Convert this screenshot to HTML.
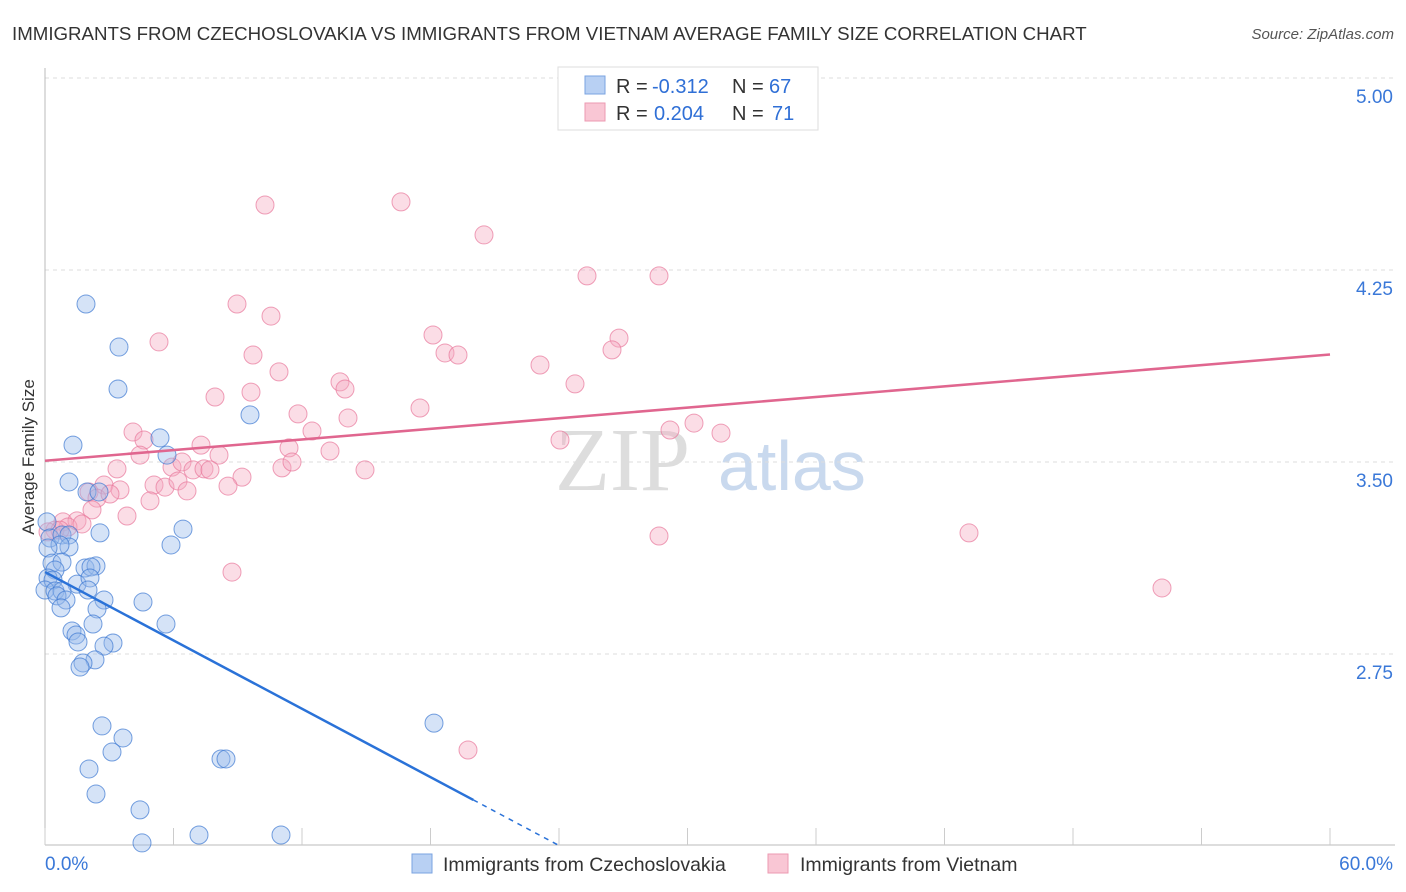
<!DOCTYPE html>
<html><head><meta charset="utf-8"><style>
body{margin:0;background:#fff;font-family:"Liberation Sans",sans-serif;}
svg{display:block}
</style></head><body>
<svg id="chart" width="1406" height="892">
<text x="12" y="40" font-size="18.7" fill="#333">IMMIGRANTS FROM CZECHOSLOVAKIA VS IMMIGRANTS FROM VIETNAM AVERAGE FAMILY SIZE CORRELATION CHART</text>
<text x="1394" y="39" font-size="15" fill="#555" font-style="italic" text-anchor="end">Source: ZipAtlas.com</text>
<text x="34" y="457" font-size="17" fill="#333" text-anchor="middle" transform="rotate(-90 34 457)">Average Family Size</text>
<text x="555" y="490" font-size="90" fill="#ddd" font-family="Liberation Serif,serif">ZIP</text>
<text x="718" y="490" font-size="70" fill="#c9d9ee">atlas</text>
<g id="grid"></g><g id="pts"></g><g id="lines"></g>
<g>
<rect x="558" y="67" width="260" height="63" fill="#fff" stroke="#ddd"/>
<rect x="585" y="76" width="20" height="18" fill="#b8d0f3" stroke="#7aa3e0"/>
<rect x="585" y="103" width="20" height="18" fill="#f9c6d4" stroke="#ec9ab2"/>
<text x="616" y="93" font-size="20" fill="#333">R =</text>
<text x="652" y="93" font-size="20" fill="#2f6fd6">-0.312</text>
<text x="732" y="93" font-size="20" fill="#333">N =</text>
<text x="769" y="93" font-size="20" fill="#2f6fd6">67</text>
<text x="616" y="120" font-size="20" fill="#333">R =</text>
<text x="654" y="120" font-size="20" fill="#2f6fd6">0.204</text>
<text x="732" y="120" font-size="20" fill="#333">N =</text>
<text x="772" y="120" font-size="20" fill="#2f6fd6">71</text>
</g>
<g>
<rect x="412" y="854" width="20" height="19" fill="#b8d0f3" stroke="#7aa3e0"/>
<text x="443" y="871" font-size="19.5" fill="#333">Immigrants from Czechoslovakia</text>
<rect x="768" y="854" width="20" height="19" fill="#f9c6d4" stroke="#ec9ab2"/>
<text x="800" y="871" font-size="19.5" fill="#333">Immigrants from Vietnam</text>
</g>
</svg>
<script>
const yTicks=[2.75,3.5,4.25,5.0];
const xTickLabels=["0.0%","60.0%"];
const blueX=[86,119,118,250,73,160,167,69,87,99,183,100,171,47,50,62,69,69,60,48,52,62,55,85,96,91,48,53,77,90,45,55,62,88,57,66,104,143,61,97,93,166,72,76,78,113,104,95,83,80,102,434,123,112,221,226,89,96,140,142,199,281].map(p=>(p-45)/1285*60);
const blueY=[304,347,389,415,445,438,455,482,492,492,529,533,545,522,538,535,535,547,545,548,563,562,570,568,566,567,578,580,584,578,590,591,591,590,596,600,600,602,608,609,624,624,631,635,642,643,646,660,663,667,726,723,738,752,759,759,769,794,810,843,835,835].map(p=>+(5-(p-78)/256).toFixed(3));
const pinkX=[265,401,484,587,659,237,271,433,619,159,253,445,458,612,279,540,340,345,575,215,251,420,298,348,133,144,312,670,694,721,560,201,289,330,140,219,117,172,182,193,204,210,282,292,365,242,104,120,154,165,178,187,228,89,97,110,150,92,127,63,77,68,82,55,60,48,659,969,232,1162,468].map(p=>(p-45)/1285*60);
const pinkY=[205,202,235,276,276,304,316,335,338,342,355,353,355,350,372,365,382,389,384,397,392,408,414,418,432,440,431,430,423,433,440,445,448,451,455,455,469,467,462,470,469,470,468,462,470,477,485,490,485,487,481,491,486,492,498,494,501,510,516,522,521,527,524,530,530,532,536,533,572,588,750].map(p=>+(5-(p-78)/256).toFixed(3));
const blueLine=[[0,3.07],[20,2.18]];
const pinkLine=[[0,3.505],[60,3.92]];
const X=v=>45+v/60*1285, Y=v=>78+(5-v)*256;
const NS="http://www.w3.org/2000/svg";
function mk(t,a,parent){const e=document.createElementNS(NS,t);for(const k in a)e.setAttribute(k,a[k]);parent.appendChild(e);return e;}
const grid=document.getElementById('grid');
yTicks.forEach(t=>{
 const l=mk('line',{x1:45,x2:1395,y1:Y(t),y2:Y(t),stroke:'#ddd','stroke-dasharray':'4,4'},grid);
 
 
 const tx=mk('text',{x:1393,y:Y(t)+25,'font-size':19,fill:'#3a78d8','text-anchor':'end'},grid);
 tx.textContent=t.toFixed(2);
 
 
});
mk('line',{x1:45,x2:45,y1:68,y2:845,stroke:'#bbb'},grid);
mk('line',{x1:45,x2:1395,y1:845,y2:845,stroke:'#bbb'},grid);
for(let i=0;i<=10;i++){const x=45+i*128.5;mk('line',{x1:x,x2:x,y1:828,y2:845,stroke:'#ccc'},grid);}
xTickLabels.forEach((s,i)=>{const t=mk('text',{x:i?1393:45,y:870,'font-size':19,fill:'#3a78d8','text-anchor':i?'end':'start'},grid);t.textContent=s;
 
 });
const pts=document.getElementById('pts');
pinkX.forEach((x,i)=>{const c=mk('circle',{cx:X(x),cy:Y(pinkY[i]),r:9,fill:'rgba(246,170,192,0.4)',stroke:'rgba(232,120,155,0.7)','stroke-width':1},pts);
 
 });
blueX.forEach((x,i)=>{const c=mk('circle',{cx:X(x),cy:Y(blueY[i]),r:9,fill:'rgba(150,185,235,0.4)',stroke:'rgba(60,120,210,0.7)','stroke-width':1},pts);
 
 });
const lines=document.getElementById('lines');
const bl=mk('line',{x1:X(blueLine[0][0]),y1:Y(blueLine[0][1]),x2:X(blueLine[1][0]),y2:Y(blueLine[1][1]),stroke:'#2a72d8','stroke-width':2.5},lines);


const slope=(blueLine[1][1]-blueLine[0][1])/(blueLine[1][0]-blueLine[0][0]);
const xe=blueLine[1][0]+(2.0-blueLine[1][1])/slope;
const bd=mk('line',{x1:X(blueLine[1][0]),y1:Y(blueLine[1][1]),x2:X(xe),y2:Y(2.0),stroke:'#2a72d8','stroke-width':1.5,'stroke-dasharray':'5,5'},lines);


const pl=mk('line',{x1:X(pinkLine[0][0]),y1:Y(pinkLine[0][1]),x2:X(pinkLine[1][0]),y2:Y(pinkLine[1][1]),stroke:'#e0668f','stroke-width':2.5},lines);


</script>
</body></html>
